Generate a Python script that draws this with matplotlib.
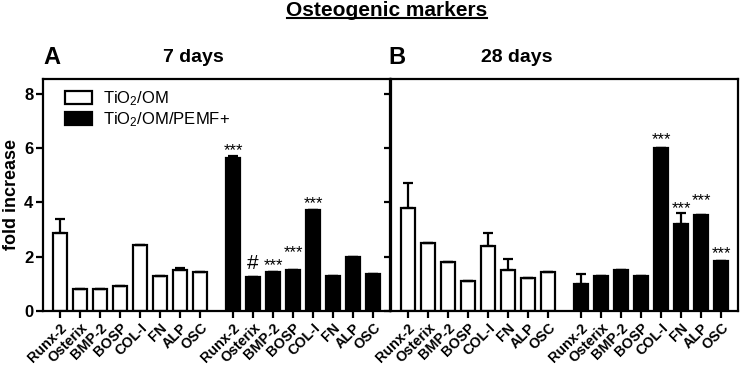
import matplotlib.pyplot as plt
import numpy as np

plt.rcParams['font.family'] = ['Liberation Sans', 'DejaVu Sans']
plt.rcParams['mathtext.fontset'] = 'custom'
plt.rcParams['mathtext.rm'] = 'Liberation Sans'
plt.rcParams['mathtext.it'] = 'Liberation Sans:italic'
plt.rcParams['mathtext.bf'] = 'Liberation Sans:bold'

markers = ["Runx-2", "Osterix", "BMP-2", "BOSP", "COL-I", "FN", "ALP", "OSC"]

# 7 days
om_7 = [2.88, 0.8, 0.8, 0.92, 2.42, 1.28, 1.5, 1.43]
om_7_err = [0.5, 0, 0, 0, 0, 0, 0.1, 0]
pemf_7 = [5.65, 1.25, 1.45, 1.5, 3.72, 1.3, 2.0, 1.38]
pemf_7_err = [0.08, 0, 0, 0, 0, 0, 0, 0]
sig_7 = ["***", "#", "***", "***", "***", "", "", ""]

# 28 days
om_28 = [3.8, 2.5, 1.8, 1.12, 2.4, 1.5, 1.2, 1.43]
om_28_err = [0.9, 0, 0, 0, 0.47, 0.4, 0, 0]
pemf_28 = [1.0, 1.28, 1.52, 1.28, 6.02, 3.2, 3.52, 1.85]
pemf_28_err = [0.38, 0, 0, 0, 0, 0.4, 0, 0]
sig_28 = ["", "", "", "", "***", "***", "***", "***"]

x1 = np.arange(8)
x2 = x1 + 8.65

fig = plt.figure(figsize=(7.4, 3.67), dpi=100)
axA = fig.add_axes([43/740, 1-311/367, 347/740, 232/367])
axB = fig.add_axes([391/740, 1-311/367, 347/740, 232/367])


def draw(ax, om, om_err, pemf, pemf_err, sig, sig_off):
    ax.bar(x1, om, width=0.7, color='white', edgecolor='black', linewidth=1.6,
           yerr=[np.zeros(8), om_err], capsize=3.5,
           error_kw=dict(elinewidth=1.6, capthick=1.6, ecolor='black'), zorder=2)
    ax.bar(x2, pemf, width=0.7, color='black', edgecolor='black', linewidth=1.6,
           yerr=[np.zeros(8), pemf_err], capsize=3.5,
           error_kw=dict(elinewidth=1.6, capthick=1.6, ecolor='black'), zorder=2)
    for i, s in enumerate(sig):
        if s:
            y = pemf[i] + pemf_err[i] + sig_off[i]
            fs = 15 if s == "#" else 12
            ax.text(x2[i], y, s, ha='center', va='baseline', fontsize=fs)
    ax.set_xlim(-0.85, 16.5)
    ax.set_ylim(0, 8.55)
    ax.set_yticks([0, 2, 4, 6, 8])
    ax.set_xticks(np.concatenate([x1, x2]))
    ax.set_xticklabels(markers + markers, rotation=45, ha='right',
                       rotation_mode='anchor', fontsize=10.3, fontweight='bold')
    for sp in ax.spines.values():
        sp.set_linewidth(1.6)
    ax.tick_params(axis='both', direction='out', length=5, width=1.6, pad=2)


draw(axA, om_7, om_7_err, pemf_7, pemf_7_err, sig_7,
     [0.02, 0.3, 0.06, 0.49, 0.07, 0, 0, 0])
draw(axB, om_28, om_28_err, pemf_28, pemf_28_err, sig_28,
     [0, 0, 0, 0, 0.13, 0.0, 0.38, 0.1])

for lab in axA.get_yticklabels():
    lab.set_fontweight('bold')
    lab.set_fontsize(12)
axB.set_yticklabels([])
axA.set_ylabel("fold increase", fontsize=13, fontweight='bold', labelpad=3)

axA.bar([0], [0], color='white', edgecolor='black', linewidth=1.6, label='TiO$_2$/OM')
axA.bar([0], [0], color='black', edgecolor='black', linewidth=1.6, label='TiO$_2$/OM/PEMF+')
axA.legend(loc='upper left', frameon=False, fontsize=12, handlelength=1.6,
           handleheight=0.8, borderaxespad=0.2, labelspacing=0.15,
           handletextpad=0.7, bbox_to_anchor=(0.035, 1.0))

fig.text(387/740, 1-10/367, "Osteogenic markers", ha='center', va='center',
         fontsize=15, fontweight='bold')
fig.add_artist(plt.Line2D([287/740, 487/740], [1-18/367, 1-18/367], color='black', linewidth=1.5))
fig.text(43/740, 1-57/367, "A", fontsize=17, fontweight='bold', va='center')
fig.text(193/740, 1-57/367, "7 days", fontsize=14, fontweight='bold', ha='center', va='center')
fig.text(388/740, 1-57/367, "B", fontsize=17, fontweight='bold', va='center')
fig.text(517/740, 1-57/367, "28 days", fontsize=14, fontweight='bold', ha='center', va='center')

fig.savefig("out.png", dpi=100)
